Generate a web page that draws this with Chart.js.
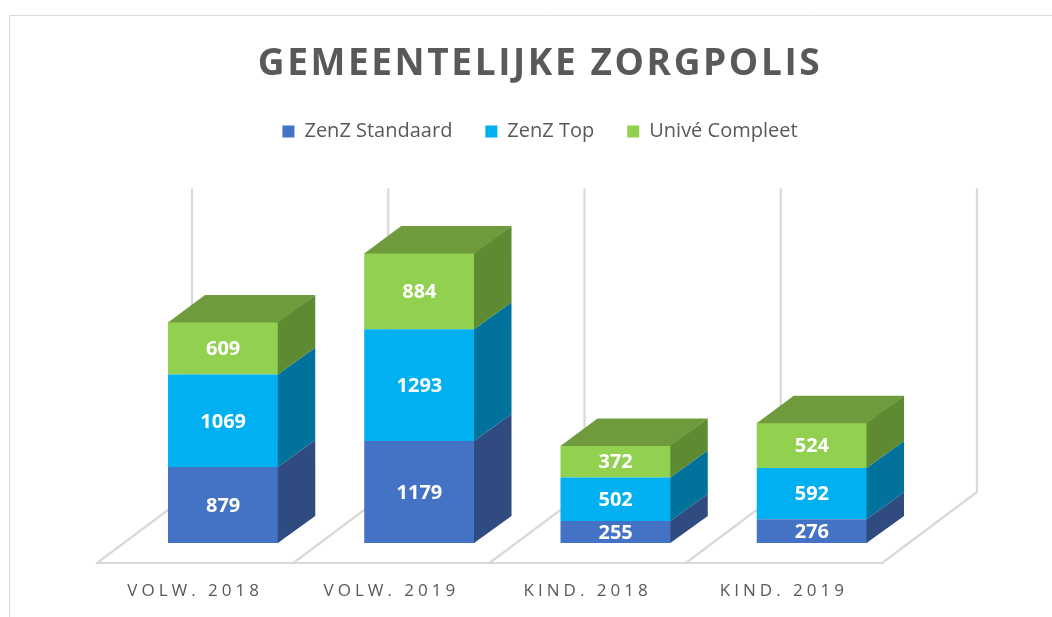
<!DOCTYPE html>
<html><head><meta charset="utf-8">
<script src="https://cdn.jsdelivr.net/npm/chart.js@4.4.1/dist/chart.umd.min.js"></script>
<style>
html,body{margin:0;padding:0;background:#fff;overflow:hidden;}
#wrap{position:relative;width:1080px;height:639px;}
</style></head><body>
<div id="wrap"><canvas id="c"></canvas></div>
<script>
// ---- data ----
const categories = ['VOLW. 2018', 'VOLW. 2019', 'KIND. 2018', 'KIND. 2019'];
const seriesNames = ['ZenZ Standaard', 'ZenZ Top', 'Univé Compleet'];
const zenzStandaard = [879, 1179, 255, 276];
const zenzTop = [1069, 1293, 502, 592];
const univeCompleet = [609, 884, 372, 524];
const yAxisMax = 4530;
const wallMax = 3500;

// ---- styles ----
const frontColors = ['#4472C4', '#00B0F0', '#92D050'];
const sideColors = ['#2F4B80', '#00729C', '#5E8A31'];
const topColors = ['#3A62A8', '#0092C8', '#6F9B3C'];
const DEPTH = {dx: 37, dy: -27};
const FLOOR_FRONT = {dx: -28, dy: 20};
const BACK = {dx: 67, dy: -51};
const GRID = '#D9D9D9';
const TEXT = '#595959';
const FONT = '"Open Sans", "DejaVu Sans", sans-serif';

const spacingPatch = {
  id: 'spacingPatch',
  afterLayout(chart) {
    const t = chart.titleBlock;
    if (t && !t._patched) {
      const orig = t.draw;
      t.draw = function (a) { const c = this.ctx; c.save(); c.letterSpacing = '2.6px'; orig.call(this, a); c.restore(); };
      t._patched = true;
    }
    const x = chart.scales.x;
    if (x && !x._patched) {
      const orig = x.drawLabels;
      x.drawLabels = function (a) { const c = this.ctx; c.save(); c.letterSpacing = '4px'; orig.call(this, a); c.restore(); };
      x._patched = true;
    }
  }
};

const framePlugin = {
  id: 'frame',
  beforeDraw(chart) {
    const c = chart.ctx;
    c.save();
    c.strokeStyle = GRID; c.lineWidth = 1;
    c.beginPath();
    c.moveTo(9.5, chart.height); c.lineTo(9.5, 15.5); c.lineTo(chart.width, 15.5);
    c.stroke();
    c.restore();
  }
};

const floorPlugin = {
  id: 'floor',
  beforeDatasetsDraw(chart) {
    const c = chart.ctx, xs = chart.scales.x, ys = chart.scales.y;
    const n = categories.length;
    const cw = xs.getPixelForValue(1) - xs.getPixelForValue(0);
    const base = ys.getPixelForValue(0);
    const wallTop = ys.getPixelForValue(wallMax) + BACK.dy;
    const bounds = [];
    for (let i = 0; i <= n; i++) bounds.push(xs.getPixelForValue(0) - cw / 2 + i * cw);
    c.save();
    c.strokeStyle = GRID; c.lineWidth = 2.2; c.lineJoin = 'round'; c.lineCap = 'round';
    c.beginPath();
    c.moveTo(bounds[0] + FLOOR_FRONT.dx, base + FLOOR_FRONT.dy);
    c.lineTo(bounds[n] + FLOOR_FRONT.dx, base + FLOOR_FRONT.dy);
    for (const b of bounds) {
      c.moveTo(b + FLOOR_FRONT.dx, base + FLOOR_FRONT.dy);
      c.lineTo(b + BACK.dx, base + BACK.dy);
      c.lineTo(b + BACK.dx, wallTop);
    }
    c.stroke();
    c.restore();
  }
};

const boxPlugin = {
  id: 'box3d',
  afterDatasetsDraw(chart) {
    const c = chart.ctx;
    const nd = chart.data.datasets.length;
    c.save();
    for (let d = 0; d < nd; d++) {
      const meta = chart.getDatasetMeta(d);
      meta.data.forEach((el) => {
        const p = el.getProps(['x', 'y', 'base', 'width'], true);
        const r = p.x + p.width / 2, l = p.x - p.width / 2;
        c.fillStyle = sideColors[d];
        c.beginPath();
        c.moveTo(r - 0.5, p.y);
        c.lineTo(r + DEPTH.dx, p.y + DEPTH.dy);
        c.lineTo(r + DEPTH.dx, p.base + DEPTH.dy);
        c.lineTo(r - 0.5, p.base);
        c.closePath();
        c.fill();
        if (d === nd - 1) {
          c.fillStyle = topColors[d];
          c.beginPath();
          c.moveTo(l, p.y + 0.5);
          c.lineTo(l + DEPTH.dx, p.y + DEPTH.dy);
          c.lineTo(r + DEPTH.dx, p.y + DEPTH.dy);
          c.lineTo(r, p.y + 0.5);
          c.closePath();
          c.fill();
        }
      });
    }
    // value labels
    c.fillStyle = '#FFFFFF';
    c.font = 'bold 20px ' + FONT;
    c.textAlign = 'center';
    c.textBaseline = 'middle';
    for (let d = 0; d < nd; d++) {
      const meta = chart.getDatasetMeta(d);
      const vals = chart.data.datasets[d].data;
      meta.data.forEach((el, i) => {
        const p = el.getProps(['x', 'y', 'base'], true);
        c.fillText(String(vals[i]), p.x, (p.y + p.base) / 2 + 1);
      });
    }
    c.restore();
  }
};

const seriesData = [zenzStandaard, zenzTop, univeCompleet];
new Chart(document.getElementById('c'), {
  type: 'bar',
  data: {
    labels: categories,
    datasets: seriesNames.map((name, i) => ({
      label: name,
      data: seriesData[i],
      backgroundColor: frontColors[i],
      borderWidth: 0
    }))
  },
  options: {
    responsive: true,
    maintainAspectRatio: false,
    animation: false,
    layout: {padding: {top: 0, left: 0, right: 0, bottom: 0}},
    datasets: {bar: {barPercentage: 0.562, categoryPercentage: 1}},
    plugins: {
      title: {
        display: true, text: 'GEMEENTELIJKE ZORGPOLIS', color: TEXT,
        font: {family: FONT, size: 37, weight: 'bold'},
        padding: {top: 42, bottom: 2}
      },
      legend: {
        display: true,
        labels: {color: TEXT, font: {family: FONT, size: 20}, boxWidth: 12, boxHeight: 12, padding: 33}
      },
      tooltip: {enabled: false}
    },
    scales: {
      x: {
        stacked: true,
        grid: {display: false, drawTicks: false}, border: {display: false},
        ticks: {color: TEXT, font: {family: FONT, size: 17}, padding: 37.8, labelOffset: -28, maxRotation: 0, autoSkip: false}
      },
      y: {
        stacked: true, min: 0, max: yAxisMax,
        grid: {display: false, drawTicks: false}, border: {display: false}, ticks: {display: false},
        afterFit(s) { s.width = 125; }
      },
      yR: {
        type: 'linear', position: 'right',
        grid: {display: false, drawTicks: false}, border: {display: false}, ticks: {display: false},
        afterFit(s) { s.width = 170; }
      }
    }
  },
  plugins: [spacingPatch, framePlugin, floorPlugin, boxPlugin]
});
</script>
</body></html>
